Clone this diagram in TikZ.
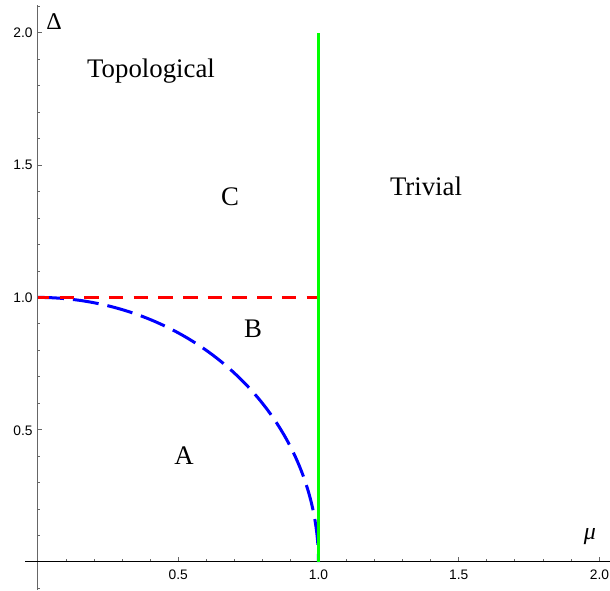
\documentclass[tikz,border=0pt]{standalone}
\usepackage{fontspec}
\setmainfont{Liberation Serif}
\newfontfamily\ticksf{Liberation Sans}
\tikzset{
  region/.style={font=\fontsize{26.8}{31}\selectfont, inner sep=0pt, anchor=base},
  axlabel/.style={font=\fontsize{24}{28}\selectfont, inner sep=0pt, anchor=base},
  ticklab/.style={font=\ticksf\fontsize{13.8}{16}\selectfont, inner sep=0pt},
  tickmark/.style={draw=black!60, line width=0.8pt},
  xaxis/.style={draw=black, line width=1pt},
  yaxis/.style={draw=black!60, line width=1pt},
  redline/.style={draw={rgb,255:red,255;green,0;blue,0}, line width=3pt, dash pattern=on 14.5pt off 10.2pt, dash phase=3.2pt},
  blueline/.style={draw={rgb,255:red,0;green,0;blue,255}, line width=3pt, dash pattern=on 26pt off 9pt},
  greenline/.style={draw={rgb,255:red,0;green,255;blue,0}, line width=2.2pt}
}
\begin{document}
\begin{tikzpicture}[x=1pt,y=-1pt]
\useasboundingbox (0,0) rectangle (610,590);
% axes
\draw[yaxis] (37.5,5) -- (37.5,590);
\draw[xaxis] (25,561) -- (610,561);
% x ticks
\foreach \i in {1,...,20} {
  \pgfmathsetmacro{\xx}{38+28.05*\i}
  \pgfmathsetmacro{\len}{ifthenelse(mod(\i,5)==0,4.5,2.5)}
  \draw[tickmark] (\xx,561) -- (\xx,561-\len);
}
% y ticks
\foreach \i in {-1,1,2,...,21} {
  \pgfmathsetmacro{\yy}{562-26.46*\i}
  \pgfmathsetmacro{\len}{ifthenelse(mod(\i,5)==0,4.5,2.5)}
  \draw[tickmark] (37.5,\yy) -- (37.5+\len,\yy);
}
% tick labels
\node[ticklab, anchor=base] (x05) at (178.3,579.8) {0.5};
\node[ticklab, anchor=base] (x10) at (318.5,579.8) {1.0};
\node[ticklab, anchor=base] (x15) at (458.8,579.8) {1.5};
\node[ticklab, anchor=base] (x20) at (599.5,579.8) {2.0};
\node[ticklab, anchor=base east] (y05) at (32.8,435.5) {0.5};
\node[ticklab, anchor=base east] (y10) at (32.8,302.3) {1.0};
\node[ticklab, anchor=base east] (y15) at (32.8,169.6) {1.5};
\node[ticklab, anchor=base east] (y20) at (32.8,37.3) {2.0};
% curves in data coordinates
\begin{scope}[shift={(38,562)}, x=280.5pt, y=264.6pt]
  \coordinate (p01) at (0,1);
  \coordinate (p11) at (1,1);
  \coordinate (p10) at (1,0);
  \coordinate (p12) at (1,2);
  \draw[blueline] plot[domain=0:90, samples=120, smooth] ({sin(\x)},{cos(\x)});
  \draw[redline] (p01) -- (p11);
  \draw[greenline] (p10) -- (p12);
\end{scope}
% labels
\node[axlabel] (delta) at (54,29.3) {Δ};
\node[axlabel] (mu) at (590,539) {\itshape μ};
\node[region] (topo) at (151,77.5) {Topological};
\node[region] (triv) at (426,195) {Trivial};
\node[region] (C) at (230,205) {C};
\node[region] (B) at (253,337) {B};
\node[region] (A) at (184,464) {A};
\end{tikzpicture}
\end{document}
